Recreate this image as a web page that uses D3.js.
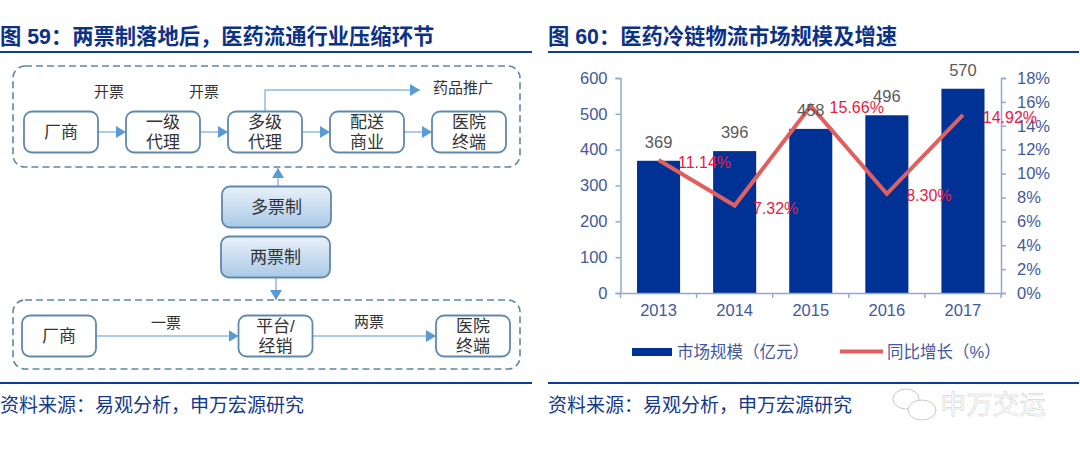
<!DOCTYPE html>
<meta charset='utf-8'>
<style>
body { margin: 0; background: #fff; }
svg { display: block; }
text { font-family: "Liberation Sans", "Noto Sans CJK SC", sans-serif; }
.title { font-size: 21.3px; font-weight: 700; fill: #0b3286; }
.source { font-size: 19px; fill: #14378a; }
.node { font-size: 17px; fill: #333; text-anchor: middle; }
.tick text { font-size: 16.5px; fill: #43589c; }
.axis path, .axis line { stroke: #8ea9d2; stroke-width: 1.5px; }
</style>
<svg id='page' width='1080' height='452'></svg>
<script src="https://cdn.jsdelivr.net/npm/d3@7"></script>
<script>

const titles = ['图 59：两票制落地后，医药流通行业压缩环节', '图 60：医药冷链物流市场规模及增速'];
const sourceText = '资料来源：易观分析，申万宏源研究';

const topChain = ['厂商', '一级|代理', '多级|代理', '配送|商业', '医院|终端'];
const bottomChain = ['厂商', '平台/|经销', '医院|终端'];
const years = ['2013', '2014', '2015', '2016', '2017'];
const marketSize = [369, 396, 458, 496, 570];
const growthRate = [11.14, 7.32, 15.66, 8.30, 14.92];
const sizeTicks = [0, 100, 200, 300, 400, 500, 600];
const rateTicks = [0, 2, 4, 6, 8, 10, 12, 14, 16, 18];
const legendNames = ['市场规模（亿元）', '同比增长（%）'];

const svg = d3.select('#page');
const defs = svg.append('defs');

defs.append('marker')
  .attr('id', 'head')
  .attr('markerUnits', 'userSpaceOnUse')
  .attr('viewBox', '0 0 10 12')
  .attr('refX', 10).attr('refY', 6)
  .attr('markerWidth', 10).attr('markerHeight', 12)
  .attr('orient', 'auto')
  .append('path')
  .attr('d', 'M0,0L10,6L0,12Z')
  .attr('fill', '#5b9bd5');

const grad = defs.append('linearGradient')
  .attr('id', 'blue').attr('x1', 0).attr('y1', 0).attr('x2', 0).attr('y2', 1);
grad.append('stop').attr('offset', '0%').attr('stop-color', '#e9f1f9');
grad.append('stop').attr('offset', '100%').attr('stop-color', '#a9c9e6');

// headings, rules and sources for both panels
[[0, 532], [548, 1079]].forEach(function(p, i) {
  svg.append('text').attr('class', 'title').attr('x', p[0]).attr('y', 44).text(titles[i]);
  svg.append('text').attr('class', 'source').attr('x', p[0]).attr('y', 412).text(sourceText);
  [52, 383].forEach(function(y) {
    svg.append('line')
      .attr('x1', p[0]).attr('x2', p[1]).attr('y1', y).attr('y2', y)
      .attr('stroke', '#0f3d94').attr('stroke-width', 2);
  });
});

/* left panel: flow diagram */
const flow = svg.append('g');

function dashedBox(y0, y1) {
  flow.append('rect')
    .attr('x', 13).attr('y', y0).attr('width', 507).attr('height', y1 - y0)
    .attr('rx', 12)
    .attr('fill', 'none').attr('stroke', '#5f86a8').attr('stroke-width', 1.6)
    .attr('stroke-dasharray', '7 4');
}

function arrow(points) {
  flow.append('path')
    .attr('d', d3.line()(points))
    .attr('fill', 'none')
    .attr('stroke', '#8fbbe2').attr('stroke-width', 1.5)
    .attr('marker-end', 'url(#head)');
}

function box(cx, cy, w, h, label, filled) {
  flow.append('rect')
    .attr('x', cx - w / 2).attr('y', cy - h / 2).attr('width', w).attr('height', h)
    .attr('rx', 8)
    .attr('fill', filled ? 'url(#blue)' : '#fff')
    .attr('stroke', '#5f88ad').attr('stroke-width', 1.8);
  const lines = label.split('|');
  lines.forEach(function(t, i) {
    flow.append('text')
      .attr('class', 'node')
      .attr('x', cx)
      .attr('y', cy + (i - (lines.length - 1) / 2) * 20 + 6)
      .text(t);
  });
}

function note(x, y, t) {
  flow.append('text').attr('class', 'node').attr('x', x).attr('y', y)
    .style('font-size', '15px').text(t);
}

dashedBox(66, 167);
dashedBox(300, 369);

const xTop = d3.scalePoint().domain(topChain).range([61, 469]);
const xBottom = d3.scaleOrdinal().domain(bottomChain).range([59, 275.5, 473]);

d3.pairs(topChain).forEach(function(pair) {
  arrow([[xTop(pair[0]) + 37, 132], [xTop(pair[1]) - 37, 132]]);
});
d3.pairs(bottomChain).forEach(function(pair) {
  arrow([[xBottom(pair[0]) + 37, 336], [xBottom(pair[1]) - 37, 336]]);
});
arrow([[xTop(topChain[2]), 112], [xTop(topChain[2]), 90], [420, 90]]);
arrow([[278, 186], [278, 168]]);
arrow([[276, 277], [276, 300]]);

topChain.forEach(function(d) { box(xTop(d), 132, 74, 41, d, false); });
bottomChain.forEach(function(d) { box(xBottom(d), 336, 74, 41, d, false); });
box(276.5, 207, 109, 41, '多票制', true);
box(275.5, 257, 109, 41, '两票制', true);

note(109, 97, '开票');
note(204, 97, '开票');
note(463, 93, '药品推广');
note(166, 328, '一票');
note(369, 327, '两票');

/* right panel: bar and line chart */
const plotLeft = 620.5, plotRight = 1001, plotTop = 78, plotBottom = 293;

const x = d3.scaleBand().domain(years).range([plotLeft, plotRight]).paddingInner(0.434).paddingOuter(0.217);
const yLeft = d3.scaleLinear().domain([0, 600]).range([plotBottom, plotTop]);
const yRight = d3.scaleLinear().domain([0, 18]).range([plotBottom, plotTop]);

svg.selectAll('rect.bar')
  .data(years)
  .join('rect')
  .attr('class', 'bar')
  .attr('x', d => x(d))
  .attr('width', x.bandwidth())
  .attr('y', (d, i) => yLeft(marketSize[i]))
  .attr('height', (d, i) => plotBottom - yLeft(marketSize[i]))
  .attr('fill', '#003296');

svg.append('g')
  .attr('class', 'axis')
  .attr('transform', 'translate(' + plotLeft + ',0)')
  .call(d3.axisLeft(yLeft).tickValues(sizeTicks).tickSize(5).tickSizeOuter(5).tickPadding(8));

svg.append('g')
  .attr('class', 'axis')
  .attr('transform', 'translate(' + plotRight + ',0)')
  .call(d3.axisRight(yRight).tickValues(rateTicks).tickFormat(d => d + '%').tickSize(5).tickSizeOuter(5).tickPadding(11));

const xAxis = svg.append('g')
  .attr('class', 'axis')
  .attr('transform', 'translate(0,' + plotBottom + ')')
  .call(d3.axisBottom(x).tickSize(0).tickPadding(11));

// category ticks sit on the band edges, not the centres
xAxis.selectAll('line.edge')
  .data(d3.range(years.length + 1))
  .join('line')
  .attr('class', 'edge')
  .attr('x1', d => plotLeft + d * x.step())
  .attr('x2', d => plotLeft + d * x.step())
  .attr('y2', 5);

const rateLine = d3.line()
  .x((d, i) => x(years[i]) + x.bandwidth() / 2)
  .y(d => yRight(d));

svg.append('path')
  .datum(growthRate)
  .attr('d', rateLine)
  .attr('fill', 'none')
  .attr('stroke', '#e0605f')
  .attr('stroke-width', 4);

svg.selectAll('text.size')
  .data(marketSize)
  .join('text')
  .attr('class', 'size')
  .attr('x', (d, i) => x(years[i]) + x.bandwidth() / 2)
  .attr('y', d => yLeft(d) - 13)
  .attr('text-anchor', 'middle')
  .attr('font-size', 16.5)
  .attr('fill', '#595959')
  .text(d => d);

// hand placed offsets from each point, as in the original
const rateOffsets = [[46, 8], [41, 8], [46, 7], [42, 7], [47, 8]];

svg.selectAll('text.rate')
  .data(growthRate)
  .join('text')
  .attr('class', 'rate')
  .attr('x', (d, i) => x(years[i]) + x.bandwidth() / 2 + rateOffsets[i][0])
  .attr('y', (d, i) => yRight(d) + rateOffsets[i][1])
  .attr('text-anchor', 'middle')
  .attr('font-size', 16)
  .attr('fill', '#e8203f')
  .text(d => d.toFixed(2) + '%');

/* legend */
svg.append('rect')
  .attr('x', 632).attr('y', 348).attr('width', 40).attr('height', 8)
  .attr('fill', '#003296');
svg.append('line')
  .attr('x1', 840).attr('x2', 883).attr('y1', 351.5).attr('y2', 351.5)
  .attr('stroke', '#e0605f').attr('stroke-width', 4);
svg.selectAll('text.legend')
  .data(legendNames)
  .join('text')
  .attr('class', 'legend')
  .attr('x', (d, i) => [677, 887][i])
  .attr('y', 358)
  .attr('font-size', 16.5)
  .attr('fill', '#43589c')
  .text(d => d);

/* faint account watermark */
const mark = svg.append('g')
  .attr('fill', '#fff').attr('stroke', '#c9c9c9').attr('stroke-width', 1);
mark.append('ellipse').attr('cx', 906).attr('cy', 399).attr('rx', 13).attr('ry', 10);
mark.append('ellipse').attr('cx', 922).attr('cy', 410).attr('rx', 14).attr('ry', 10);
mark.append('text')
  .attr('x', 940).attr('y', 414)
  .attr('font-size', 26)
  .attr('letter-spacing', 0.5)
  .attr('stroke-width', 0.5)
  .text('申万交运');

</script>
